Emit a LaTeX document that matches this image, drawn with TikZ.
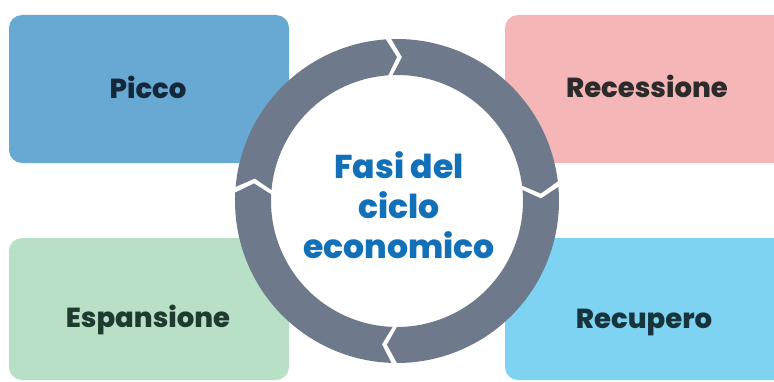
\documentclass[tikz,border=0pt]{standalone}
\usepackage{fontspec}
\setmainfont{Poppins}[BoldFont={Poppins ExtraBold}]
\usepackage{tikz}

\definecolor{piccoblue}{HTML}{67A9D3}
\definecolor{recpink}{HTML}{F5B6B8}
\definecolor{espgreen}{HTML}{B7E0C6}
\definecolor{recupblue}{HTML}{7DD3F1}
\definecolor{ringgray}{HTML}{6E7A8B}
\definecolor{titleblue}{HTML}{1170B8}
\definecolor{piccotext}{HTML}{14283A}
\definecolor{rectext}{HTML}{2B2B2B}
\definecolor{esptext}{HTML}{1F3A30}
\definecolor{recuptext}{HTML}{17343D}

\begin{document}
\begin{tikzpicture}[x=1pt,y=1pt]
\tikzset{box/.style = {rectangle,rounded corners=13pt,inner sep=0pt,minimum width=280pt,minimum height=148pt},
         lbl/.style = {anchor=base,inner sep=0pt,font=\fontsize{27.5}{34}\selectfont\bfseries},
         ring/.style = {fill=ringgray}}

\clip (0,0) rectangle (774,381);

\node[box,fill=piccoblue] (P) at (149,292) {};
\node[box,fill=recpink,minimum width=284pt] (R) at (647,292) {};
\node[box,fill=espgreen,minimum height=142pt] (E) at (149,72) {};
\node[box,fill=recupblue,minimum width=284pt,minimum height=142pt] (U) at (647,72) {};

\node[lbl,text=piccotext] (Pt) at (148,282) {Picco};
\node[lbl,text=rectext] (Rt) at (647,283) {Recessione};
\node[lbl,text=esptext] (Et) at (148,54) {Espansione};
\node[lbl,text=recuptext] (Ut) at (644,53) {Recupero};

% ring of four arrows
\coordinate (O) at (397,180);
\fill[white] (O) circle (126);
\fill[ring,shift={(O)}] (92:162) arc[start angle=92,end angle=7,radius=162] -- (3:144) -- (7:126) arc[start angle=7,end angle=92,radius=126] -- (88:144) -- cycle;
\fill[ring,shift={(O)}] (5:162) arc[start angle=5,end angle=-90,radius=162] -- (-94:144) -- (-90:126) arc[start angle=-90,end angle=5,radius=126] -- (1:144) -- cycle;
\fill[ring,shift={(O)}] (-92:162) arc[start angle=-92,end angle=-183,radius=162] -- (-187:144) -- (-183:126) arc[start angle=-183,end angle=-92,radius=126] -- (-96:144) -- cycle;
\fill[ring,shift={(O)}] (-185:162) arc[start angle=-185,end angle=-266,radius=162] -- (-270:144) -- (-266:126) arc[start angle=-266,end angle=-185,radius=126] -- (-189:144) -- cycle;

\node[align=center,text=titleblue,font=\fontsize{33}{40}\selectfont\bfseries] (T) at (399,176) {Fasi del\\ciclo\\economico};
\end{tikzpicture}
\end{document}
